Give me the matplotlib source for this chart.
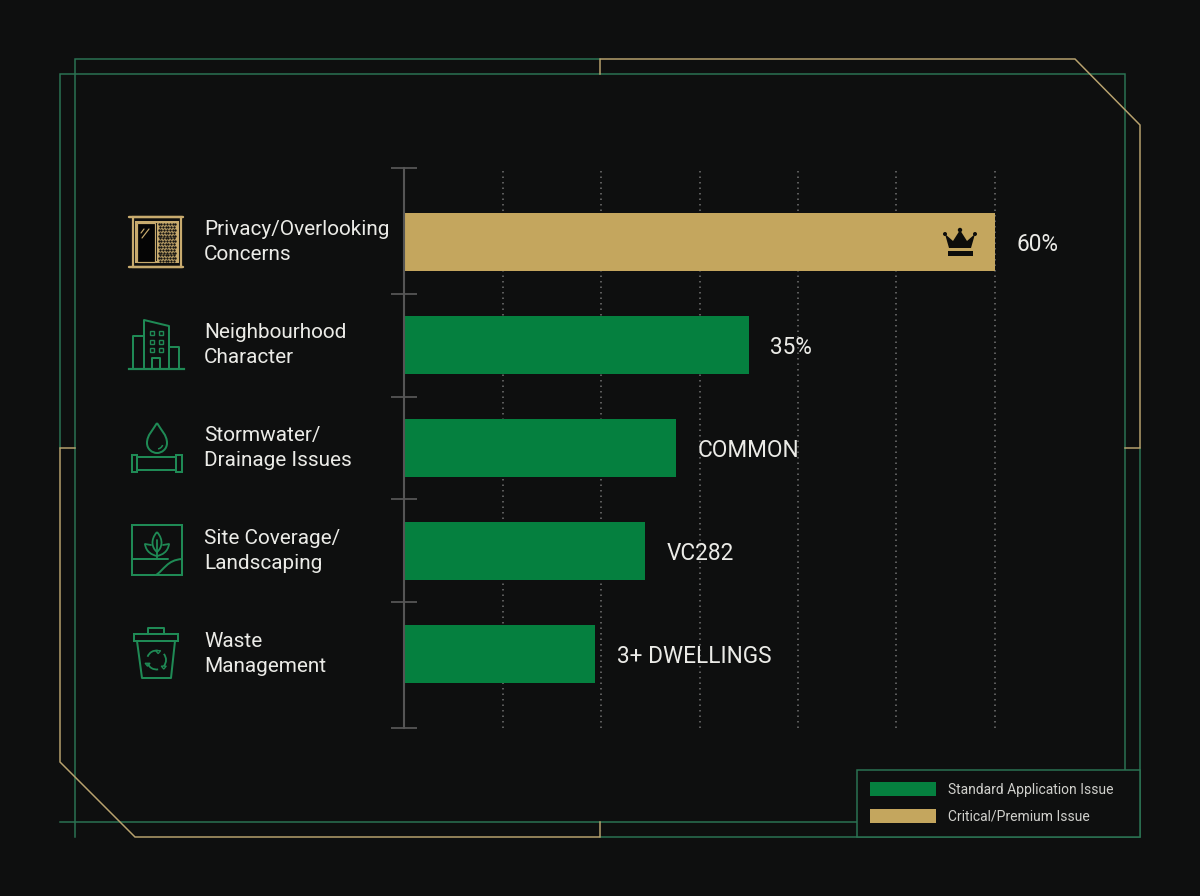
import numpy as np
import matplotlib.pyplot as plt
from matplotlib.patches import Rectangle, Polygon, Circle, Arc, Patch, PathPatch
from matplotlib.path import Path
from matplotlib.transforms import blended_transform_factory

# Data
categories = ['Privacy/Overlooking\nConcerns', 'Neighbourhood\nCharacter', 'Stormwater/\nDrainage Issues',
              'Site Coverage/\nLandscaping', 'Waste\nManagement']
values = [60, 35, 27.6, 24.5, 19.4]
value_labels = ['60%', '35%', 'COMMON', 'VC282', '3+ DWELLINGS']
premium = [True, False, False, False, False]
legend_labels = ['Standard Application Issue', 'Critical/Premium Issue']
grid_ticks = [10, 20, 30, 40, 50, 60]

BG = '#0e0f0f'
GREEN = '#05803f'
GOLD = '#c4a65e'
LINE_GREEN = '#2b7353'
LINE_GOLD = '#b8a26e'
ICON_GREEN = '#1f8a55'
ICON_GOLD = '#c8ab6e'
AXIS = '#555555'
TEXT = '#ebebe7'

plt.rcParams['font.family'] = ['Roboto', 'DejaVu Sans']

W, H = 1200, 896
px = 0.72  # one pixel in points at dpi 100

fig = plt.figure(figsize=(W / 100, H / 100), dpi=100, facecolor=BG)


def pos(x0, y0, x1, y1):
    return [x0 / W, 1 - y1 / H, (x1 - x0) / W, (y1 - y0) / H]


# Main chart
ax = fig.add_axes(pos(404, 168, 995, 728), facecolor='none')
y = np.arange(len(categories))
colors = [GOLD if p else GREEN for p in premium]
ax.barh(y, values, height=0.564, color=colors, zorder=3)
ax.set_xlim(0, 60)
ylim_top, ylim_bottom = -0.72, 4.72
ax.set_ylim(ylim_bottom, ylim_top)

for s in ['top', 'right', 'bottom']:
    ax.spines[s].set_visible(False)
ax.spines['left'].set_color(AXIS)
ax.spines['left'].set_linewidth(1.5)
ax.spines['left'].set_zorder(4)

ax.set_xticks(grid_ticks)
ax.tick_params(axis='x', length=0, labelbottom=False)
ax.grid(axis='x', color='#6a6a6a', linewidth=1.2, linestyle=(0, (0.9, 2.4)), zorder=1)
for gl in ax.get_xgridlines():
    gl.set_clip_on(False)
ax.set_yticks([ylim_top, 0.5, 1.5, 2.5, 3.5, ylim_bottom])
ax.tick_params(axis='y', direction='inout', length=26 * px, width=1.3, color=AXIS, labelleft=False)

for i, (v, lab) in enumerate(zip(values, value_labels)):
    ax.annotate(lab, (v, i), xytext=(21.5 * px, 0), textcoords='offset points', va='center_baseline',
                ha='left', color=TEXT, fontsize=22.6 * px, annotation_clip=False)

# Overlay in pixel coordinates for frame and icons
deco = fig.add_axes([0, 0, 1, 1], facecolor='none', zorder=2)
deco.set_xlim(0, W)
deco.set_ylim(H, 0)
deco.axis('off')

label_trans = blended_transform_factory(deco.transData, ax.transData)
for i, cat in enumerate(categories):
    ax.text(204, i, cat, transform=label_trans, ha='left', va='center', color=TEXT,
            fontsize=20.8 * px, linespacing=1.42, clip_on=False)


def seg(points, color, lw=1.5, z=1):
    pts = np.array(points)
    deco.plot(pts[:, 0], pts[:, 1], color=color, lw=lw * px, zorder=z, solid_capstyle='projecting',
              solid_joinstyle='miter')


# Frame
seg([(600, 59), (75, 59), (75, 837)], LINE_GREEN)
seg([(60, 448), (60, 74), (1125, 74), (1125, 770)], LINE_GREEN)
seg([(60, 822), (857, 822)], LINE_GREEN)
seg([(1140, 448), (1140, 837), (600, 837)], LINE_GREEN)
seg([(600, 74), (600, 59), (1075, 59), (1140, 125), (1140, 448), (1125, 448)], LINE_GOLD, z=1.5)
seg([(75, 448), (60, 448), (60, 762), (135, 837), (600, 837), (600, 822)], LINE_GOLD, z=1.5)

# Legend box
deco.add_patch(Rectangle((857, 770), 283, 67, facecolor=BG, edgecolor=LINE_GREEN, lw=1.5 * px, zorder=2))
handles = [Patch(facecolor=GREEN, edgecolor='none'), Patch(facecolor=GOLD, edgecolor='none')]
leg = fig.legend(handles, legend_labels, loc='upper left', bbox_to_anchor=(870 / W, 1 - 782 / H), frameon=False,
                 fontsize=13.9 * px, handlelength=66 / 13.9, handleheight=1.15, handletextpad=12 / 13.9,
                 labelspacing=0.9, borderpad=0, borderaxespad=0, labelcolor='#d0d0cc')
leg.set_zorder(10)


# Icons
def rect(x0, y0, x1, y1, color, lw=2, fill='none', z=3):
    deco.add_patch(Rectangle((x0, y0), x1 - x0, y1 - y0, facecolor=fill, edgecolor=color, lw=lw * px, zorder=z))


def line(points, color=ICON_GREEN, lw=2, z=3):
    pts = np.array(points)
    deco.plot(pts[:, 0], pts[:, 1], color=color, lw=lw * px, zorder=z, solid_capstyle='round')


def curve(verts, codes, color=ICON_GREEN, lw=2, fill='none', z=3):
    deco.add_patch(PathPatch(Path(verts, codes), facecolor=fill, edgecolor=color, lw=lw * px, zorder=z))


# window with privacy screen
line([(129, 217), (183, 217)], ICON_GOLD, 2.4)
line([(129, 267), (183, 267)], ICON_GOLD, 2.4)
rect(132.5, 217, 180.5, 267, ICON_GOLD, 2.2)
rect(136, 222, 177.5, 262.5, ICON_GOLD, 2)
rect(137, 223, 155, 262, ICON_GOLD, 1.2, fill='#050505')
rect(157, 223, 177, 262, ICON_GOLD, 1, fill=ICON_GOLD)
for row, yy in enumerate(np.arange(224.5, 262, 2.8)):
    xs = np.arange(158.5 + (row % 2) * 1.4, 176.5, 2.8)
    deco.scatter(xs, np.full_like(xs, yy), s=3, color='#151412', linewidths=0, zorder=4)
line([(141, 233), (144, 229)], ICON_GOLD, 1.2)
line([(142, 238), (149, 229)], ICON_GOLD, 1.2)

# building
deco.plot([129, 184], [369, 369], color=ICON_GREEN, lw=2.2 * px, zorder=3)
line([(144, 369), (144, 320), (169, 326), (169, 369)])
line([(144, 336), (133, 336), (133, 369)])
line([(169, 347), (179, 347), (179, 369)])
line([(152, 369), (152, 358), (160, 358), (160, 369)])
for wy in [333, 342, 350]:
    for wx in [151.5, 161]:
        rect(wx - 2, wy - 2, wx + 2, wy + 2, ICON_GREEN, 1.4)

# drop and pipe
curve([(157, 423), (153, 430), (147, 435), (147, 443), (147, 449), (152, 453), (157, 453), (162, 453), (167, 449),
       (167, 443), (167, 435), (161, 430), (157, 423)],
      [Path.MOVETO] + [Path.CURVE4] * 12)
deco.add_patch(Arc((157, 443), 12, 12, theta1=20, theta2=80, color=ICON_GREEN, lw=1.5 * px, zorder=3))
rect(137, 457, 176, 470, ICON_GREEN)
rect(132, 455, 137, 472, ICON_GREEN)
rect(176, 455, 182, 472, ICON_GREEN)

# landscape and plant
rect(132, 525, 182, 575, ICON_GREEN)
line([(132, 559), (168, 559)])
curve([(156, 575), (164, 570), (167, 560), (182, 559)], [Path.MOVETO] + [Path.CURVE4] * 3)
line([(157, 558), (157, 540)], lw=1.8)
curve([(157, 532), (150, 540), (152, 548), (157, 552), (162, 548), (164, 540), (157, 532)],
      [Path.MOVETO] + [Path.CURVE4] * 6, lw=1.8)
curve([(145, 544), (146, 552), (152, 555), (157, 556)], [Path.MOVETO] + [Path.CURVE4] * 3, lw=1.8)
curve([(169, 544), (168, 552), (162, 555), (157, 556)], [Path.MOVETO] + [Path.CURVE4] * 3, lw=1.8)
line([(145, 544), (151, 545)], lw=1.8)
line([(169, 544), (163, 545)], lw=1.8)

# recycling bin
line([(148, 634), (148, 628), (164, 628), (164, 634)])
rect(134, 634, 178, 641, ICON_GREEN)
line([(137, 641), (142, 678), (171, 678), (175, 641)])
for start in [200, 320, 80]:
    deco.add_patch(Arc((156.5, 660), 19, 19, theta1=start, theta2=start + 80, color=ICON_GREEN, lw=1.8 * px, zorder=3))
    a = np.deg2rad(start + 80)
    tip = np.array([156.5 + 9.5 * np.cos(a), 660 + 9.5 * np.sin(a)])
    deco.add_patch(Polygon([tip + (2.5, 0), tip + (-2.5, 0), tip + (0, 3)], closed=True, fill=False,
                           edgecolor=ICON_GREEN, lw=1.3 * px, zorder=3))

# crown on the premium bar
deco.add_patch(Polygon([(945, 234), (953, 241), (960, 230), (967, 241), (975, 234), (971, 248), (949, 248)],
                       closed=True, facecolor='#0d0d0b', edgecolor='none', zorder=5))
for cx, cy, r in [(945, 234, 2), (960, 230, 2.2), (975, 234, 2)]:
    deco.add_patch(Circle((cx, cy), r, facecolor='#0d0d0b', edgecolor='none', zorder=5))
deco.add_patch(Rectangle((948, 251), 25, 5, facecolor='#0d0d0b', edgecolor='none', zorder=5))

fig.savefig('out.png', dpi=100, facecolor=BG)
